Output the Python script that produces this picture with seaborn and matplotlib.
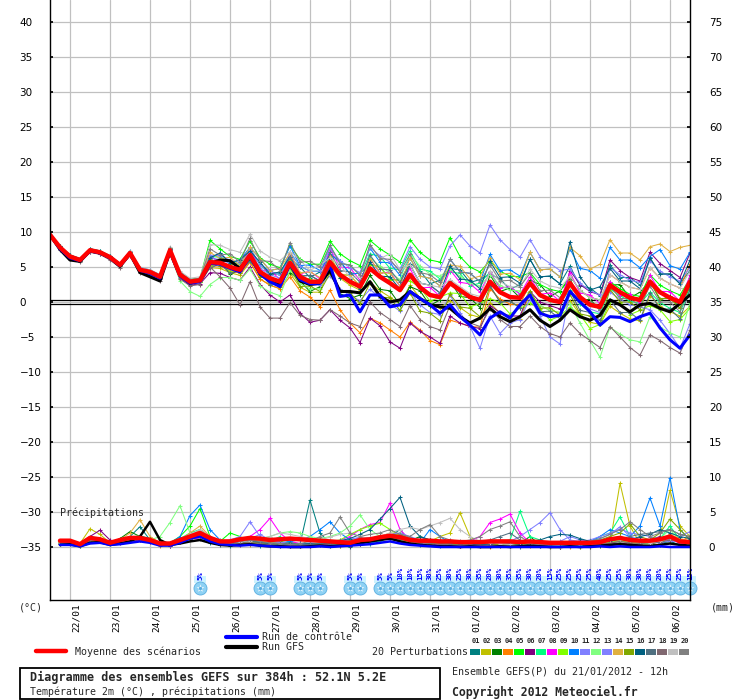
import matplotlib
matplotlib.use("Agg")
import matplotlib.pyplot as plt
from matplotlib.patches import Rectangle
import pandas as pd
import seaborn as sns

# échéances (h) depuis le run du 21/01/2012 12h, pas de 6h
heures = list(range(0, 385, 6))
jours = ["22/01", "23/01", "24/01", "25/01", "26/01", "27/01", "28/01", "29/01",
         "30/01", "31/01", "01/02", "02/02", "03/02", "04/02", "05/02", "06/02"]

# ---- température 2m (°C) ----
temp_moyenne = [9.6, 7.8, 6.5, 6.0, 7.4, 7.1, 6.4, 5.3, 7.0, 4.6, 4.3, 3.6, 7.4, 3.9, 2.9, 3.1,
                5.7, 5.6, 5.0, 4.6, 6.7, 4.3, 3.4, 2.9, 5.6, 3.6, 2.9, 2.9, 5.7, 3.9, 2.9, 2.2,
                4.8, 3.6, 2.7, 1.7, 3.9, 2.1, 1.0, 0.7, 2.7, 1.7, 0.7, 0.3, 2.9, 1.4, 0.7, 0.6,
                2.7, 1.0, 0.3, 0.0, 2.7, 0.7, -0.4, -0.7, 2.4, 1.4, 0.6, 0.3, 2.9, 1.4, 0.6, 0.0, 2.9]
temp_controle = [9.6, 7.6, 6.3, 5.9, 7.3, 7.0, 6.3, 5.2, 6.9, 4.5, 4.1, 3.4, 7.2, 3.7, 2.7, 2.9,
                 5.5, 5.4, 4.8, 4.3, 6.5, 4.0, 2.9, 2.2, 5.4, 3.2, 2.6, 2.7, 5.3, 0.8, 1.0, -1.4,
                 1.0, 1.0, -0.7, -0.4, 1.5, 0.5, -0.4, -1.6, -0.4, -2.1, -3.3, -4.7, -2.3, -1.4, -2.3, -0.4,
                 1.0, -1.6, -2.1, -1.9, 1.5, 0.0, -1.4, -3.3, -2.1, -2.2, -2.8, -2.1, -1.6, -3.7, -5.4, -6.6, -4.7]
temp_gfs = [9.6, 7.5, 6.0, 5.8, 7.3, 7.0, 6.3, 5.1, 6.9, 4.2, 3.6, 3.0, 7.2, 3.8, 2.7, 3.0,
            5.5, 6.0, 5.9, 4.8, 6.6, 4.0, 3.0, 2.6, 5.4, 3.0, 2.5, 2.7, 4.5, 1.5, 1.5, 1.3,
            2.9, 0.8, 0.0, 0.3, 1.5, 0.5, -0.4, -0.7, -0.9, -2.1, -3.0, -2.3, -0.9, -2.1, -2.8, -2.1,
            -1.1, -2.6, -3.5, -2.6, -1.1, -2.1, -2.6, -1.9, 0.3, -0.4, -1.4, -0.4, -0.2, -0.9, -1.4, -0.2, 1.0]

t01 = [9.6, 8.0, 6.7, 6.2, 7.5, 7.2, 6.5, 5.4, 7.2, 4.8, 4.5, 3.8, 7.7, 4.2, 3.2, 3.4, 6.6, 5.7, 5.9, 4.7, 7.1, 5.5, 3.8, 4.1, 6.2, 5.0, 3.5, 4.3, 6.8, 5.8, 4.0, 4.1, 5.4, 5.0, 3.3, 3.1, 5.5, 4.5, 2.6, 3.1, 4.8, 4.6, 2.8, 3.2, 4.0, 3.3, 1.8, 2.5, 6.1, 3.6, 3.7, 2.6, 5.1, 2.3, 2.0, 0.9, 5.3, 3.5, 3.5, 2.4, 6.3, 4.0, 4.0, 2.6, 4.5]
t02 = [9.6, 7.6, 6.3, 5.8, 7.3, 7.0, 6.3, 5.2, 6.8, 4.4, 4.1, 3.4, 7.1, 3.6, 2.6, 2.8, 4.9, 4.8, 4.2, 3.8, 5.7, 3.3, 2.4, 1.9, 4.1, 2.1, 1.4, 1.4, 5.2, 3.4, 2.4, 1.7, 2.8, 1.6, 0.7, -0.3, 2.4, 0.6, -0.5, -0.8, 0.2, -0.8, -1.8, -2.2, -0.1, -1.6, -2.3, -2.4, 1.2, -0.5, -1.2, -1.5, 0.2, -1.8, -2.9, -3.2, -0.6, -1.6, -2.4, -2.7, 0.9, -0.6, -1.4, -2.0, -0.6]
t03 = [9.6, 7.9, 6.6, 6.1, 7.4, 7.1, 6.4, 5.3, 7.1, 4.7, 4.4, 3.7, 7.2, 3.7, 2.7, 2.9, 5.2, 5.9, 4.0, 4.5, 6.0, 4.6, 2.8, 3.3, 4.2, 3.0, 1.5, 2.2, 4.4, 1.2, 0.5, 1.0, 3.8, 1.8, 1.6, -0.4, 2.2, 1.6, -0.5, 0.3, 3.0, 0.8, 0.6, -0.8, 3.9, 1.5, 2.0, 0.6, 3.1, 2.5, 0.8, 1.6, 3.3, 0.2, 0.4, -1.2, 2.4, 2.5, 0.6, 1.4, 3.0, 0.3, 0.8, -0.9, 2.2]
t04 = [9.6, 7.9, 6.6, 6.1, 7.5, 7.2, 6.5, 5.4, 7.0, 4.6, 4.3, 3.6, 7.6, 4.1, 3.1, 3.3, 5.2, 5.1, 4.5, 4.1, 5.7, 3.3, 2.4, 1.9, 3.6, 1.6, 0.7, -0.7, 1.7, -1.1, -3.0, -4.4, -2.3, -3.0, -4.0, -5.0, -2.9, -4.0, -5.5, -6.1, -2.6, -3.0, -3.5, -3.6, 1.9, 0.4, -0.3, -0.4, 2.7, 1.0, 0.3, 0.0, 3.7, 1.7, 0.6, 0.3, 3.9, 2.9, 2.1, 1.8, 4.9, 3.4, 2.6, 2.0, 5.4]
t05 = [9.6, 7.7, 6.4, 5.9, 7.3, 7.0, 6.3, 5.2, 7.1, 4.7, 4.4, 3.7, 7.7, 4.2, 3.2, 3.4, 8.8, 7.6, 6.5, 6.1, 8.7, 6.3, 5.4, 4.9, 8.1, 6.1, 5.4, 5.4, 8.7, 6.9, 5.9, 5.2, 8.8, 7.6, 6.7, 5.7, 8.9, 7.1, 6.0, 5.7, 9.2, 6.5, 5.0, 4.3, 5.9, 4.4, 3.7, 3.6, 4.2, 2.5, 1.8, 1.5, 3.7, 1.7, 0.6, 0.3, 2.9, 1.9, 1.1, 0.8, 3.9, 2.4, 1.6, 1.0, 3.4]
t06 = [9.6, 7.6, 6.3, 5.8, 7.2, 6.9, 6.2, 5.1, 6.7, 4.3, 4.0, 3.3, 6.9, 3.4, 2.4, 2.6, 4.2, 4.1, 3.5, 3.1, 5.0, 2.5, 1.0, 0.0, 1.0, -1.6, -2.9, -2.6, -1.1, -2.6, -3.7, -5.8, -2.3, -3.4, -5.7, -6.6, -3.0, -4.2, -5.0, -5.9, -2.0, -3.0, -3.5, -3.8, -0.5, -1.5, -2.0, -2.0, 1.5, 0.0, -0.5, -1.0, 4.5, 2.5, 1.5, 1.0, 6.0, 4.5, 3.5, 3.0, 7.1, 5.5, 4.5, 3.5, 7.0]
t07 = [9.6, 7.9, 6.6, 6.1, 7.5, 7.2, 6.5, 5.4, 7.2, 4.8, 4.5, 3.8, 7.4, 3.9, 2.9, 3.1, 6.5, 6.4, 5.8, 5.4, 7.7, 5.3, 4.4, 3.9, 7.1, 5.1, 4.4, 4.4, 8.1, 5.5, 5.3, 3.8, 6.9, 6.5, 4.8, 4.6, 7.3, 4.7, 4.4, 3.3, 4.3, 4.1, 2.3, 2.7, 4.3, 2.0, 2.1, 1.2, 2.7, 1.0, 0.3, 0.0, 1.7, -0.3, -1.4, -1.7, 1.9, 0.9, 0.1, -0.2, 1.4, -0.1, -0.9, -1.5, 1.9]
t08 = [9.6, 7.7, 6.4, 6.0, 7.4, 7.1, 6.4, 5.3, 6.9, 4.5, 4.2, 3.5, 7.6, 4.1, 3.1, 3.3, 6.5, 5.7, 5.9, 4.6, 7.8, 4.5, 4.6, 3.2, 7.0, 4.0, 4.4, 3.3, 7.6, 5.0, 4.9, 3.1, 6.2, 4.1, 4.3, 2.2, 4.8, 2.0, 2.1, 0.8, 4.6, 2.8, 2.6, 1.4, 4.3, 2.0, 2.2, 1.1, 3.6, 1.1, 1.3, 0.1, 4.2, 1.3, 1.0, -0.2, 2.9, 1.0, 1.1, -0.2, 3.8, 1.5, 1.5, 0.1, 3.8]
t09 = [9.6, 7.9, 6.6, 6.1, 7.5, 7.2, 6.5, 5.4, 7.0, 4.6, 4.3, 3.6, 7.2, 3.7, 2.7, 2.9, 5.0, 5.8, 4.3, 4.8, 5.8, 4.3, 2.5, 2.8, 6.0, 3.1, 3.3, 2.5, 6.6, 3.9, 3.8, 2.3, 5.3, 5.0, 3.2, 3.1, 3.0, 2.1, 0.1, 0.7, 1.3, 1.2, -0.7, -0.2, 0.5, -0.1, -1.7, -0.9, -0.2, -1.0, -2.6, -2.0, -0.7, -1.8, -3.8, -3.2, 0.0, -0.1, -1.8, -1.2, -0.5, -1.1, -2.8, -2.5, -0.9]
t10 = [9.6, 8.0, 6.7, 6.2, 7.6, 7.3, 6.6, 5.5, 7.3, 4.9, 4.6, 3.9, 7.6, 4.1, 3.1, 3.3, 6.3, 7.0, 5.6, 6.0, 7.8, 6.2, 4.5, 4.8, 8.0, 5.2, 5.3, 4.5, 6.8, 5.8, 4.0, 4.1, 7.7, 5.7, 5.6, 3.8, 6.3, 3.7, 3.4, 2.3, 6.1, 4.3, 4.1, 2.9, 6.8, 4.5, 4.6, 3.7, 7.1, 4.6, 4.7, 3.6, 7.6, 4.8, 4.5, 3.4, 7.8, 6.0, 6.0, 4.9, 6.5, 7.5, 5.2, 4.7, 7.1]
t11 = [9.6, 7.7, 6.4, 5.9, 7.3, 7.0, 6.3, 5.2, 7.0, 4.6, 4.3, 3.6, 7.5, 4.0, 3.0, 3.2, 6.2, 6.1, 5.5, 5.1, 7.2, 4.8, 3.9, 3.4, 7.1, 5.1, 4.4, 4.4, 7.7, 5.9, 4.9, 4.2, 7.8, 6.6, 5.7, 4.7, 7.9, 6.1, 5.0, 4.7, 8.0, 9.6, 8.0, 7.0, 11.0, 8.9, 7.5, 6.4, 8.9, 6.5, 5.5, 4.5, 4.7, 2.7, 1.6, 1.0, 1.4, 0.4, -0.4, -0.7, -1.1, -2.6, -4.5, -6.6, -3.1]
t12 = [9.6, 8.0, 6.7, 6.2, 7.6, 7.3, 6.6, 5.5, 7.1, 4.7, 4.4, 3.7, 6.9, 3.0, 1.5, 0.8, 2.5, 3.5, 3.5, 3.1, 4.7, 2.3, 1.4, 0.9, 4.6, 2.6, 1.9, 1.9, 5.7, 3.9, 2.9, 2.2, 6.3, 5.1, 4.2, 3.2, 6.9, 5.1, 4.0, 3.7, 4.7, 3.7, 2.7, 2.3, 3.9, 2.4, 1.7, 1.6, 1.2, -0.5, -1.2, -1.5, -0.3, -3.0, -5.5, -7.9, -3.6, -4.6, -5.4, -5.7, -2.1, -3.6, -4.4, -5.0, -0.1]
t13 = [9.6, 7.6, 6.3, 5.8, 7.2, 6.9, 6.2, 5.1, 6.9, 4.5, 4.2, 3.5, 7.4, 3.9, 2.9, 3.1, 6.7, 6.6, 6.0, 5.6, 7.7, 5.3, 4.4, 3.9, 5.1, 3.1, 2.4, 2.4, 3.7, 1.9, 0.9, 0.2, 1.8, 0.6, -0.3, -1.3, 1.4, -0.4, -1.5, -1.8, 1.0, -1.5, -3.5, -6.6, -2.0, -4.5, -3.0, -2.5, 0.5, -2.0, -5.0, -6.0, 1.5, 0.0, -1.0, -1.5, 4.9, 3.9, 3.1, 2.8, 5.9, 4.4, 3.6, 3.0, 4.9]
t14 = [9.6, 7.8, 6.6, 6.1, 7.4, 7.1, 6.4, 5.3, 7.2, 4.8, 4.5, 3.8, 7.7, 4.2, 3.2, 3.4, 7.1, 6.2, 6.4, 5.2, 7.8, 6.2, 4.5, 4.8, 7.0, 4.2, 4.3, 3.5, 6.6, 4.0, 3.8, 2.3, 6.2, 4.2, 4.1, 2.3, 6.3, 3.7, 3.4, 2.3, 5.3, 5.1, 3.3, 3.7, 6.3, 4.0, 4.1, 3.2, 7.1, 4.6, 4.7, 3.6, 7.8, 6.6, 4.7, 5.4, 8.9, 7.0, 7.0, 6.0, 7.9, 8.3, 7.2, 7.8, 8.1]
t15 = [9.6, 7.7, 6.4, 5.9, 7.3, 7.0, 6.3, 5.2, 6.8, 4.4, 4.1, 3.4, 7.4, 3.9, 2.9, 3.1, 6.1, 5.2, 5.4, 4.2, 6.8, 3.6, 3.5, 2.2, 5.0, 2.2, 2.3, 1.5, 4.1, 1.5, 1.3, -0.2, 2.7, 0.7, 0.6, -1.2, 1.3, -1.3, -1.6, -2.7, 1.1, -0.7, -0.9, -2.1, 2.3, 0.0, 0.1, -0.8, 1.6, -0.9, -0.8, -1.9, 1.1, -1.7, -2.0, -3.1, 1.8, 0.0, 0.0, -1.1, 2.8, 0.5, 0.5, -0.9, 2.3]
t16 = [9.6, 8.0, 6.7, 6.2, 7.6, 7.3, 6.6, 5.5, 7.1, 4.7, 4.4, 3.7, 7.6, 4.1, 3.1, 3.3, 6.3, 7.0, 5.6, 6.0, 7.3, 5.7, 4.0, 4.3, 6.5, 3.7, 3.8, 3.0, 6.1, 3.5, 3.3, 1.8, 5.7, 3.7, 3.6, 1.8, 5.3, 2.7, 2.4, 1.3, 5.1, 3.3, 3.1, 1.9, 5.8, 3.5, 3.6, 2.7, 6.1, 3.6, 3.7, 2.6, 8.6, 3.6, 1.7, 2.2, 4.8, 3.0, 3.0, 1.9, 6.3, 4.0, 4.0, 2.6, 6.0]
t17 = [9.6, 7.9, 6.4, 5.9, 7.4, 7.1, 6.4, 5.3, 6.9, 4.5, 4.2, 3.5, 7.5, 4.0, 3.0, 3.2, 4.8, 5.5, 4.1, 4.5, 5.8, 4.2, 2.5, 2.8, 6.5, 3.7, 3.8, 3.0, 7.1, 4.5, 4.3, 2.8, 6.7, 4.7, 4.6, 2.8, 5.3, 2.7, 2.4, 1.3, 3.1, 1.3, 1.1, -0.1, 2.3, 0.0, 0.1, -0.8, 1.1, -1.4, -1.3, -2.4, 1.6, -1.2, -1.5, -2.6, 0.3, -1.5, -1.5, -2.6, 1.3, -1.0, -1.0, -2.4, 1.8]
t18 = [9.6, 7.5, 6.2, 5.7, 7.1, 6.8, 6.0, 4.9, 6.6, 4.2, 3.9, 3.0, 6.8, 3.3, 2.3, 2.5, 5.0, 3.6, 2.0, -0.4, 2.9, -0.7, -2.3, -2.3, -0.1, -1.9, -2.5, -2.6, -1.1, -2.0, -3.0, -3.5, 0.0, -1.5, -2.5, -3.5, -0.5, -2.5, -3.5, -4.0, -0.5, -2.0, -3.0, -3.5, -1.0, -2.5, -3.5, -3.5, -2.0, -3.5, -4.5, -5.0, -3.0, -4.5, -5.5, -6.5, -3.5, -5.0, -6.5, -7.6, -4.7, -5.5, -6.5, -7.3, -4.0]
t19 = [9.6, 7.9, 6.6, 6.1, 7.5, 7.2, 6.5, 5.4, 7.3, 4.9, 4.6, 3.9, 7.9, 4.4, 3.4, 3.6, 8.2, 8.1, 7.5, 7.1, 9.7, 7.3, 6.4, 5.9, 7.2, 6.0, 4.5, 5.3, 6.3, 5.3, 3.5, 3.6, 8.2, 6.2, 6.9, 4.6, 5.3, 2.7, 2.4, 2.1, 3.2, 2.2, 1.2, 0.8, 4.4, 2.9, 2.2, 2.1, 4.7, 3.0, 2.3, 2.0, 3.7, 1.7, 0.6, 0.3, 3.9, 2.9, 2.1, 1.8, 4.9, 3.4, 2.6, 2.0, 4.4]
t20 = [9.6, 7.7, 6.6, 6.0, 7.4, 7.1, 6.4, 5.3, 7.1, 4.7, 4.4, 3.7, 7.7, 4.2, 3.2, 3.4, 7.6, 6.7, 6.9, 5.7, 9.1, 5.9, 5.8, 4.5, 8.5, 5.7, 5.8, 5.0, 8.1, 5.5, 5.3, 3.8, 8.2, 6.2, 6.1, 4.3, 6.8, 4.2, 3.9, 2.8, 6.1, 4.3, 4.1, 2.9, 5.3, 3.0, 3.1, 2.2, 4.1, 1.6, 1.7, 0.6, 3.1, 0.3, 0.0, -1.1, 2.3, 0.5, 0.5, -0.6, 2.3, 0.0, 0.0, -1.4, 2.8]
temp_perts = [t01, t02, t03, t04, t05, t06, t07, t08, t09, t10,
              t11, t12, t13, t14, t15, t16, t17, t18, t19, t20]

# ---- précipitations (mm / 6h), à partir de +6h ----
precip_moyenne = [0.9, 0.9, 0.4, 1.3, 1.1, 0.6, 1.0, 1.3, 1.3, 1.0, 0.5, 0.5, 1.0, 1.5, 2.0, 1.3,
                  0.8, 0.8, 1.1, 1.3, 1.2, 1.0, 1.1, 1.2, 1.1, 1.0, 0.9, 0.8, 0.7, 0.6, 1.0, 1.1,
                  1.4, 1.6, 1.4, 1.0, 0.9, 0.9, 0.8, 0.8, 0.7, 0.7, 0.7, 0.8, 0.8, 0.8, 0.7, 0.8,
                  0.7, 0.6, 0.6, 0.6, 0.6, 0.6, 0.7, 1.1, 1.3, 1.0, 0.9, 0.9, 1.1, 1.5, 0.8, 0.7]
precip_controle = [0.3, 0.3, 0.1, 0.5, 0.6, 0.3, 0.4, 0.6, 0.8, 0.6, 0.2, 0.2, 0.6, 1.2, 1.5, 0.8,
                   0.4, 0.3, 0.2, 0.3, 0.2, 0.1, 0.0, 0.0, 0.0, 0.0, 0.1, 0.0, 0.1, 0.2, 0.3, 0.4,
                   0.6, 0.8, 0.5, 0.3, 0.2, 0.1, 0.0, 0.0, 0.0, 0.0, 0.0, 0.0, 0.0, 0.0, 0.0, 0.0,
                   0.0, 0.0, 0.0, 0.0, 0.0, 0.0, 0.1, 0.0, 0.1, 0.0, 0.0, 0.0, 0.1, 0.0, 0.0, 0.0]
precip_gfs = [0.3, 0.4, 0.1, 0.6, 0.7, 0.3, 0.5, 0.8, 1.5, 3.6, 1.0, 0.3, 0.5, 0.8, 1.0, 0.6,
              0.3, 0.2, 0.3, 0.4, 0.2, 0.1, 0.1, 0.0, 0.0, 0.1, 0.2, 0.1, 0.2, 0.3, 0.5, 0.8,
              1.0, 1.2, 0.8, 0.5, 0.3, 0.2, 0.1, 0.1, 0.0, 0.1, 0.0, 0.0, 0.1, 0.0, 0.1, 0.2,
              0.1, 0.0, 0.0, 0.1, 0.0, 0.1, 0.2, 0.3, 0.4, 0.3, 0.2, 0.1, 0.3, 0.5, 0.3, 0.2]

p01 = [0.5, 0.6, 0.3, 1.2, 1.0, 0.4, 0.8, 1.5, 2.9, 1.0, 0.3, 0.2, 0.8, 1.2, 1.5, 0.6, 0.3, 0.2, 0.4, 0.6, 0.2, 0.5, 0.3, 0.2, 0.4, 6.7, 2.0, 0.5, 0.2, 0.0, 0.8, 0.5, 1.0, 1.5, 2.5, 0.8, 0.3, 0.5, 0.2, 0.6, 0.2, 0.0, 0.1, 0.3, 0.5, 0.2, 0.0, 0.4, 0.1, 0.0, 0.2, 0.3, 0.0, 0.1, 0.5, 0.8, 0.4, 0.2, 0.6, 1.0, 0.5, 0.8, 0.3, 0.6]
p02 = [0.8, 0.7, 0.5, 2.6, 1.8, 0.6, 0.9, 1.2, 1.0, 0.8, 0.4, 0.3, 1.0, 1.5, 1.8, 1.0, 0.5, 0.4, 0.6, 0.8, 0.9, 0.6, 0.5, 0.4, 0.3, 0.5, 0.4, 0.2, 0.1, 0.6, 1.0, 0.8, 1.2, 1.5, 1.0, 0.6, 0.5, 0.8, 1.5, 2.0, 4.9, 1.5, 0.3, 0.2, 0.5, 0.3, 0.2, 0.4, 0.2, 0.0, 0.0, 0.1, 0.0, 0.2, 0.3, 0.5, 9.1, 3.0, 0.5, 0.4, 1.5, 8.1, 3.0, 1.5]
p03 = [0.6, 0.8, 0.2, 1.0, 0.8, 0.5, 1.2, 2.2, 1.5, 1.0, 0.5, 0.4, 0.8, 1.4, 1.6, 1.0, 0.6, 0.4, 0.8, 1.2, 0.5, 0.3, 0.2, 0.4, 0.2, 0.3, 0.5, 0.4, 0.3, 0.2, 0.5, 0.8, 1.0, 1.4, 1.2, 0.9, 1.5, 1.0, 0.6, 0.5, 0.3, 0.4, 0.8, 0.5, 0.3, 0.2, 0.5, 1.5, 0.3, 0.1, 0.0, 0.2, 0.1, 0.0, 0.2, 0.4, 0.6, 0.3, 0.5, 0.4, 0.3, 1.5, 0.5, 0.8]
p04 = [0.5, 0.6, 0.3, 0.9, 1.0, 0.5, 0.7, 0.9, 1.2, 0.9, 0.2, 0.3, 0.9, 1.6, 2.5, 1.5, 0.8, 0.6, 0.4, 0.3, 0.5, 0.8, 0.6, 0.4, 0.3, 0.2, 0.4, 0.6, 0.3, 0.5, 1.0, 1.2, 1.5, 2.0, 1.8, 1.0, 0.8, 0.5, 0.6, 0.4, 0.2, 0.3, 0.1, 0.0, 0.2, 0.4, 0.3, 0.2, 0.1, 0.2, 0.3, 0.0, 0.1, 0.2, 0.8, 1.2, 1.5, 0.8, 0.6, 0.5, 0.9, 1.2, 0.8, 1.5]
p05 = [0.7, 0.8, 0.4, 1.5, 1.2, 0.5, 0.9, 1.0, 1.3, 1.0, 0.4, 0.6, 1.5, 3.0, 5.5, 1.5, 0.8, 2.0, 1.5, 0.6, 0.5, 0.4, 0.8, 0.5, 0.3, 0.4, 0.3, 0.5, 0.6, 0.8, 1.2, 1.0, 1.2, 1.6, 2.0, 1.3, 0.9, 0.7, 0.5, 0.6, 0.4, 0.3, 0.5, 0.2, 0.3, 0.4, 0.2, 0.3, 0.2, 0.1, 0.3, 0.4, 0.2, 0.3, 0.6, 0.9, 0.8, 0.6, 0.5, 0.7, 1.0, 1.5, 0.8, 0.6]
p06 = [0.6, 0.9, 0.4, 1.5, 2.4, 1.0, 0.6, 0.8, 1.0, 0.7, 0.3, 0.2, 0.7, 1.2, 1.4, 0.9, 0.5, 0.4, 0.3, 0.5, 0.6, 0.4, 0.3, 0.2, 0.2, 0.1, 0.3, 0.4, 0.3, 0.2, 0.5, 0.7, 1.0, 1.2, 1.5, 1.0, 0.8, 0.6, 0.4, 0.3, 0.2, 0.3, 0.2, 0.1, 0.4, 0.3, 0.2, 0.3, 0.2, 0.1, 0.0, 0.2, 0.3, 0.2, 0.4, 0.6, 0.5, 0.4, 0.3, 1.0, 1.5, 1.2, 0.8, 0.6]
p07 = [0.4, 0.6, 0.3, 1.1, 0.9, 0.6, 1.0, 1.4, 1.6, 1.2, 0.6, 0.4, 1.2, 2.0, 2.5, 1.2, 0.9, 0.7, 0.5, 0.6, 1.2, 0.8, 1.5, 0.6, 0.5, 0.4, 0.3, 0.2, 0.5, 0.4, 0.8, 0.6, 0.8, 1.5, 1.8, 1.2, 1.0, 0.9, 0.7, 0.5, 0.3, 0.5, 0.4, 0.6, 0.8, 1.0, 5.1, 1.5, 1.0, 0.4, 0.3, 0.2, 0.4, 0.6, 1.5, 2.0, 4.3, 1.5, 0.8, 0.6, 1.2, 3.0, 1.0, 0.6]
p08 = [0.5, 0.7, 0.3, 1.0, 1.2, 0.5, 0.8, 1.1, 1.2, 0.9, 0.4, 0.3, 0.8, 1.3, 1.2, 0.8, 0.6, 0.5, 0.8, 1.5, 2.5, 4.1, 2.0, 0.8, 0.5, 0.4, 0.3, 0.5, 1.0, 1.5, 2.5, 3.2, 3.5, 6.3, 2.5, 1.0, 0.6, 0.5, 0.4, 0.6, 0.5, 0.8, 1.5, 3.5, 4.0, 4.7, 2.0, 0.6, 0.3, 0.2, 0.4, 0.3, 0.5, 0.6, 0.8, 1.0, 0.8, 0.6, 0.5, 0.7, 0.9, 1.0, 0.6, 0.5]
p09 = [0.6, 0.7, 0.4, 1.3, 1.0, 0.6, 0.9, 1.2, 1.4, 1.0, 0.5, 0.4, 1.0, 1.8, 2.0, 1.0, 0.7, 0.6, 0.5, 0.4, 0.5, 0.6, 0.4, 0.3, 0.4, 0.5, 0.6, 0.8, 1.0, 1.8, 2.5, 3.0, 3.4, 2.5, 1.5, 0.9, 0.7, 0.5, 0.6, 0.4, 0.3, 0.2, 0.4, 0.3, 0.2, 0.5, 0.4, 0.3, 0.2, 0.3, 0.1, 0.2, 0.4, 0.3, 0.5, 0.7, 0.9, 0.6, 0.5, 0.4, 0.8, 1.2, 0.7, 0.5]
p10 = [0.5, 0.6, 0.2, 0.9, 0.8, 0.4, 0.7, 1.0, 1.1, 0.8, 0.3, 0.5, 1.5, 4.5, 6.0, 2.5, 1.0, 0.6, 0.8, 1.0, 0.7, 0.5, 0.6, 0.8, 1.0, 1.5, 2.5, 3.6, 2.0, 1.0, 0.8, 0.6, 1.0, 1.2, 1.5, 0.8, 0.6, 2.5, 1.5, 0.6, 0.4, 0.3, 0.2, 0.4, 0.3, 0.5, 0.4, 0.3, 0.2, 0.1, 0.2, 0.3, 0.5, 0.8, 1.5, 2.5, 2.0, 1.5, 3.0, 7.0, 3.0, 9.9, 2.5, 1.0]
p11 = [0.4, 0.5, 0.3, 0.8, 0.9, 0.5, 0.8, 1.2, 1.3, 1.1, 0.6, 0.5, 0.9, 1.4, 1.6, 1.2, 0.8, 1.0, 1.5, 3.6, 1.5, 0.8, 0.6, 0.5, 0.4, 0.3, 0.5, 0.6, 0.8, 1.0, 1.3, 1.2, 1.5, 1.8, 2.0, 1.5, 1.0, 0.8, 0.7, 0.5, 0.4, 0.5, 0.3, 0.4, 0.6, 0.8, 1.5, 2.5, 3.5, 4.9, 2.5, 1.0, 0.8, 1.0, 1.5, 2.0, 2.6, 2.0, 1.8, 1.5, 1.2, 1.0, 1.5, 2.2]
p12 = [0.5, 0.6, 0.2, 1.0, 0.9, 0.5, 0.8, 1.0, 1.2, 1.0, 1.5, 3.5, 5.9, 2.0, 1.2, 0.8, 0.6, 0.5, 0.8, 1.0, 1.2, 1.5, 2.0, 2.2, 2.0, 1.5, 1.2, 1.5, 2.0, 3.0, 4.6, 2.5, 1.5, 1.2, 1.0, 0.8, 0.7, 0.6, 0.5, 0.4, 0.3, 0.4, 0.2, 0.3, 0.4, 0.2, 0.3, 0.5, 0.4, 0.3, 0.2, 0.1, 0.3, 0.4, 0.6, 0.8, 1.0, 0.8, 0.6, 0.5, 1.2, 2.5, 1.0, 0.8]
p13 = [0.6, 0.7, 0.3, 1.2, 1.0, 0.5, 0.9, 1.1, 1.3, 1.0, 0.4, 0.3, 0.9, 1.5, 1.8, 1.2, 0.7, 0.6, 0.9, 1.2, 1.8, 1.0, 0.7, 0.5, 0.4, 0.6, 0.5, 0.7, 0.9, 1.1, 1.4, 1.3, 1.4, 1.6, 1.3, 1.0, 0.8, 0.6, 0.9, 0.7, 0.5, 0.6, 0.4, 0.3, 0.5, 0.4, 0.6, 0.8, 0.6, 0.5, 0.8, 1.5, 1.0, 0.8, 1.2, 1.8, 2.9, 1.5, 1.0, 0.8, 0.6, 0.9, 0.7, 0.6]
p14 = [0.7, 0.8, 0.4, 1.4, 1.1, 0.6, 1.0, 2.0, 3.9, 1.5, 0.6, 0.4, 1.0, 2.0, 3.0, 1.5, 0.8, 0.6, 0.5, 0.7, 0.9, 0.6, 0.5, 0.4, 0.3, 0.4, 0.6, 0.5, 0.4, 0.6, 0.9, 1.0, 1.2, 1.4, 1.8, 1.2, 0.9, 0.7, 0.6, 0.5, 0.4, 0.3, 0.2, 0.3, 0.5, 0.4, 0.3, 0.2, 0.3, 0.2, 0.1, 0.2, 0.3, 0.4, 0.6, 1.0, 1.5, 1.0, 0.8, 0.6, 1.0, 1.8, 1.2, 0.9]
p15 = [0.5, 0.6, 0.3, 1.1, 0.9, 0.5, 0.8, 1.2, 1.4, 1.1, 0.5, 0.4, 1.0, 1.7, 2.2, 1.3, 0.7, 0.5, 0.6, 0.8, 0.6, 0.4, 0.3, 0.3, 0.2, 0.3, 0.4, 0.5, 0.6, 0.9, 1.1, 1.2, 1.3, 1.5, 1.4, 1.0, 0.8, 0.6, 0.5, 0.4, 0.3, 0.2, 0.3, 0.4, 0.3, 0.2, 0.4, 0.5, 0.3, 0.2, 0.3, 0.4, 0.6, 0.8, 1.0, 1.5, 2.0, 3.3, 1.5, 1.0, 2.0, 4.0, 2.5, 1.0]
p16 = [0.6, 0.7, 0.3, 1.3, 1.0, 0.5, 0.9, 1.3, 1.5, 1.2, 0.5, 0.4, 0.9, 1.6, 2.0, 1.2, 0.8, 0.6, 0.7, 0.9, 0.7, 0.5, 0.4, 0.6, 0.4, 0.5, 0.4, 0.6, 0.9, 1.2, 1.8, 2.5, 4.0, 5.5, 7.1, 3.0, 1.5, 1.0, 0.8, 0.6, 0.5, 0.4, 0.3, 0.4, 0.6, 0.5, 0.4, 0.8, 1.0, 1.5, 1.8, 1.7, 1.2, 0.8, 0.6, 0.9, 1.2, 1.0, 1.5, 1.8, 2.5, 2.0, 1.5, 1.2]
p17 = [0.5, 0.7, 0.3, 1.2, 1.0, 0.5, 0.9, 1.1, 1.3, 1.0, 0.5, 0.4, 0.9, 1.5, 1.9, 1.1, 0.7, 0.5, 0.6, 0.8, 0.7, 0.5, 0.4, 0.3, 0.3, 0.4, 0.5, 0.4, 0.6, 0.8, 1.0, 1.2, 1.3, 1.5, 1.7, 1.2, 0.9, 0.7, 0.6, 0.5, 0.4, 0.5, 0.8, 1.0, 1.5, 2.0, 1.0, 0.5, 0.3, 0.2, 0.4, 0.3, 0.5, 0.6, 0.8, 1.0, 1.2, 1.5, 1.8, 2.0, 2.2, 2.5, 1.8, 1.5]
p18 = [0.4, 0.5, 0.2, 0.9, 0.8, 0.4, 0.7, 0.9, 1.1, 0.9, 0.4, 0.3, 0.8, 1.2, 1.4, 0.9, 0.6, 0.4, 0.5, 0.6, 0.5, 0.3, 0.2, 0.2, 0.1, 0.2, 0.3, 0.2, 0.4, 0.5, 0.6, 0.8, 1.0, 1.2, 1.1, 0.8, 0.6, 0.5, 0.4, 0.3, 0.2, 0.1, 0.2, 0.3, 0.2, 0.1, 0.2, 0.3, 0.2, 0.1, 0.0, 0.1, 0.2, 0.3, 0.4, 0.6, 0.8, 0.6, 0.5, 0.4, 0.7, 1.0, 0.8, 0.6]
p19 = [0.6, 0.7, 0.3, 1.2, 1.0, 0.5, 0.8, 1.0, 1.2, 1.0, 0.5, 0.4, 1.0, 1.8, 2.5, 1.5, 1.0, 0.8, 0.7, 0.9, 1.2, 1.5, 2.0, 1.8, 1.5, 1.2, 1.0, 1.4, 1.8, 2.0, 1.5, 1.2, 1.5, 2.0, 2.5, 2.8, 2.5, 3.0, 3.5, 4.1, 2.5, 1.5, 0.8, 0.6, 0.5, 0.4, 0.6, 0.5, 0.4, 0.3, 0.2, 0.4, 0.3, 0.5, 0.7, 1.0, 1.2, 1.0, 0.8, 0.6, 0.9, 1.3, 0.8, 0.7]
p20 = [0.5, 0.6, 0.3, 1.1, 0.9, 0.5, 0.8, 1.1, 1.3, 1.0, 0.5, 0.4, 1.0, 1.6, 2.0, 1.2, 0.7, 0.6, 0.8, 1.0, 0.8, 0.6, 0.5, 0.4, 0.5, 0.8, 1.5, 2.0, 4.3, 2.0, 1.5, 1.8, 2.0, 2.5, 1.8, 1.5, 2.5, 3.2, 1.5, 1.0, 0.8, 1.0, 1.5, 2.5, 3.0, 3.6, 1.5, 0.6, 0.4, 0.3, 0.5, 0.4, 0.6, 0.8, 1.2, 1.8, 2.5, 3.6, 2.5, 1.5, 2.0, 2.5, 1.8, 1.5]
precip_perts = [p01, p02, p03, p04, p05, p06, p07, p08, p09, p10,
                p11, p12, p13, p14, p15, p16, p17, p18, p19, p20]

# ---- risque de neige (%) ----
neige_heures = [90, 126, 132, 150, 156, 162, 180, 186, 198, 204, 210, 216, 222, 228, 234, 240,
                246, 252, 258, 264, 270, 276, 282, 288, 294, 300, 306, 312, 318, 324, 330, 336,
                342, 348, 354, 360, 366, 372, 378, 384]
neige_pct = [5, 5, 5, 5, 5, 5, 5, 5, 5, 5, 10, 10, 15, 30, 25, 30, 25, 30, 35, 20, 30, 35, 35, 30,
             20, 15, 25, 25, 25, 25, 40, 25, 25, 30, 30, 20, 20, 25, 25, 15]

membres = ["01", "02", "03", "04", "05", "06", "07", "08", "09", "10",
           "11", "12", "13", "14", "15", "16", "17", "18", "19", "20"]
couleurs = ["#008080", "#c0c000", "#008000", "#ff8000", "#00ff00", "#800080", "#00ff80",
            "#ff00ff", "#80ff00", "#0080ff", "#8080ff", "#80ff80", "#8080ff", "#e0b040",
            "#80a800", "#006080", "#507080", "#806870", "#c0c0c0", "#808080"]
palette = dict(zip(membres, couleurs))

sns.set_theme(style="white")
plt.rcParams['font.family'] = ['DejaVu Sans']
MONO = "DejaVu Sans Mono"

W, H = 740, 700
def fx(px):
    return px / W
def fy(py):
    return 1 - py / H

fig = plt.figure(figsize=(7.4, 7.0), dpi=100)
ax = fig.add_axes([fx(50), fy(600), 640 / W, 600 / H])
ymin, ymax = (302 - 600) / 7, 302 / 7
ax.set_xlim(0, 384)
ax.set_ylim(ymin, ymax)

# grille
ax.set_yticks(range(-35, 45, 5))
ax.yaxis.grid(True, color="#c0c0c0", lw=0.9, zorder=0)
for h in range(12, 384, 24):
    ax.axvline(h, color="#c0c0c0", lw=0.9, zorder=0)
ax.axhline(0.22, color="black", lw=0.9, zorder=1.5)
ax.axhline(-0.22, color="black", lw=0.9, zorder=1.5)

# température : perturbations
temp_df = pd.DataFrame({
    "heure": heures * len(membres),
    "temp": sum(temp_perts, []),
    "membre": [m for m in membres for _ in heures],
})
sns.lineplot(data=temp_df, x="heure", y="temp", hue="membre", palette=palette,
             estimator=None, sort=False, legend=False, lw=0.75,
             marker="+", markersize=3, ax=ax)
for ln in ax.lines:
    ln.set_markeredgecolor(ln.get_color())
sns.lineplot(x=heures, y=temp_gfs, color="black", lw=2.2, ax=ax)
sns.lineplot(x=heures, y=temp_controle, color="#0000ff", lw=2.2, ax=ax)
sns.lineplot(x=heures, y=temp_moyenne, color="#ff0000", lw=3.2, ax=ax)

# précipitations sur l'axe de droite (0 mm = -35 °C)
ax2 = ax.twinx()
ax2.set_ylim(ymin + 35, ymax + 35)
heures_p = heures[1:]
precip_df = pd.DataFrame({
    "heure": heures_p * len(membres),
    "precip": sum(precip_perts, []),
    "membre": [m for m in membres for _ in heures_p],
})
sns.lineplot(data=precip_df, x="heure", y="precip", hue="membre", palette=palette,
             estimator=None, sort=False, legend=False, lw=0.75,
             marker="+", markersize=3, ax=ax2)
for ln in ax2.lines:
    ln.set_markeredgecolor(ln.get_color())
sns.lineplot(x=heures_p, y=precip_gfs, color="black", lw=1.8, ax=ax2)
sns.lineplot(x=heures_p, y=precip_controle, color="#0000ff", lw=1.8, ax=ax2)
sns.lineplot(x=heures_p, y=precip_moyenne, color="#ff0000", lw=3.2, ax=ax2)
ax2.set_yticks(range(0, 80, 5))
ax2.set_ylabel("")

# axes, graduations
ax.set_xlabel("")
ax.set_ylabel("")
ax.set_xticks([h + 4 for h in range(12, 384, 24)])
ax.set_xticklabels(jours, rotation=90, family=MONO, fontsize=6.8, va="top")
ax.tick_params(axis="x", length=0, pad=2.5, colors="black")
ax.tick_params(axis="y", length=2, direction="in", pad=22, labelsize=7.5, colors="black")
for lbl in ax.get_yticklabels():
    lbl.set_horizontalalignment("left")
ax2.tick_params(axis="y", length=2, direction="in", pad=13.5, labelsize=7.5, colors="black")
for a in (ax, ax2):
    a.spines["top"].set_visible(False)
ax.spines["right"].set_visible(False)
ax2.spines["left"].set_visible(False)
ax2.spines["bottom"].set_visible(False)
ax.spines["left"].set_color("black")
ax.spines["bottom"].set_color("black")
ax2.spines["right"].set_color("black")
for s in ("left", "bottom"):
    ax.spines[s].set_linewidth(1.0)
ax2.spines["right"].set_linewidth(1.0)

# neige : bande claire, icônes et pourcentages
tr = ax.get_xaxis_transform()
for h in neige_heures:
    ax.add_patch(Rectangle((h - 3.5, 0.028), 7, 0.012, transform=tr,
                           facecolor="#cdf3ff", edgecolor="none", zorder=4, clip_on=False))
ax.scatter(neige_heures, [0.02] * len(neige_heures), transform=tr, s=88, c="#8fd2f4",
           edgecolors="#5aaee0", linewidths=0.6, zorder=5, clip_on=False)
ax.scatter(neige_heures, [0.02] * len(neige_heures), transform=tr, s=34, c="white",
           marker="*", linewidths=0, zorder=6, clip_on=False)
ax.scatter(neige_heures, [0.02] * len(neige_heures), transform=tr, s=6, c="#5aaee0",
           marker="o", linewidths=0, zorder=7, clip_on=False)
for h, p in zip(neige_heures, neige_pct):
    ax.text(h, 0.034, f"{p}%", transform=tr, rotation=90, ha="center", va="bottom",
            fontsize=5.2, color="#0000ff", family=MONO, fontweight="bold", zorder=6)

# textes
fig.text(fx(60), fy(513), "Précipitations", family=MONO, fontsize=7.2, va="center")
fig.text(fx(31), fy(607), "(°C)", family=MONO, fontsize=7.2, ha="center", va="center")
fig.text(fx(723), fy(607), "(mm)", family=MONO, fontsize=7.2, ha="center", va="center")

# légende
fig.add_artist(plt.Line2D([fx(36), fx(66)], [fy(651), fy(651)], color="#ff0000", lw=3.2))
fig.text(fx(75), fy(652), "Moyenne des scénarios", family=MONO, fontsize=7.2, va="center")
fig.add_artist(plt.Line2D([fx(226), fx(257)], [fy(637), fy(637)], color="#0000ff", lw=3.0))
fig.text(fx(262), fy(637), "Run de contrôle", family=MONO, fontsize=7.2, va="center")
fig.add_artist(plt.Line2D([fx(226), fx(257)], [fy(647), fy(647)], color="black", lw=3.0))
fig.text(fx(262), fy(647), "Run GFS", family=MONO, fontsize=7.2, va="center")
fig.text(fx(372), fy(652), "20 Perturbations", family=MONO, fontsize=7.2, va="center")
for k, (m, c) in enumerate(zip(membres, couleurs)):
    x0 = 470 + 11 * k
    fig.add_artist(Rectangle((fx(x0), fy(655)), 10 / W, 6 / H, transform=fig.transFigure,
                             facecolor=c, edgecolor="none"))
    fig.text(fx(x0 + 5.5), fy(641), m, family=MONO, fontsize=5.0, fontweight="bold",
             ha="center", va="center")

# cartouche
fig.add_artist(Rectangle((fx(20), fy(699)), 420 / W, 31 / H, transform=fig.transFigure,
                         fill=False, edgecolor="black", lw=1.3))
fig.text(fx(30), fy(677), "Diagramme des ensembles GEFS sur 384h : 52.1N 5.2E",
         family=MONO, fontsize=8.5, fontweight="bold", va="center")
fig.text(fx(30), fy(692), "Température 2m (°C) , précipitations (mm)",
         family=MONO, fontsize=7.1, va="center")
fig.text(fx(452), fy(672), "Ensemble GEFS(P) du 21/01/2012 - 12h",
         family=MONO, fontsize=7.2, va="center")
fig.text(fx(452), fy(692), "Copyright 2012 Meteociel.fr",
         family=MONO, fontsize=8.3, fontweight="bold", va="center")

fig.savefig("out.png", dpi=100)
